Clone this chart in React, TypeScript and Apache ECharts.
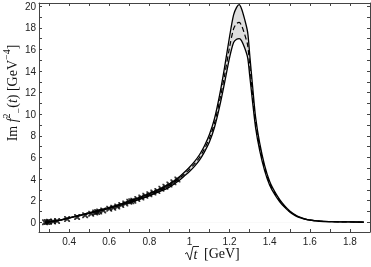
import React, { useEffect, useRef } from "react";
import * as echarts from "echarts";

// sqrt(t) grid for the curves
const xs = [0.28, 0.30, 0.33, 0.36, 0.40, 0.45, 0.50, 0.55, 0.60, 0.65, 0.70, 0.75, 0.80, 0.85, 0.90, 0.95, 0.98, 1.00, 1.025, 1.05, 1.075, 1.10, 1.125, 1.15, 1.175, 1.20, 1.22, 1.235, 1.248, 1.26, 1.275, 1.29, 1.30, 1.315, 1.33, 1.35, 1.375, 1.40, 1.425, 1.45, 1.475, 1.50, 1.525, 1.55, 1.575, 1.60, 1.65, 1.70, 1.75, 1.80, 1.87];
// central curve (dashed)
const central = [0.00, 0.04, 0.12, 0.22, 0.40, 0.62, 0.85, 1.08, 1.33, 1.60, 1.90, 2.20, 2.55, 2.95, 3.40, 4.05, 4.55, 4.90, 5.40, 6.00, 6.80, 7.80, 9.20, 11.20, 13.60, 16.20, 17.90, 18.40, 18.50, 18.20, 17.40, 16.40, 14.60, 11.80, 9.20, 7.00, 5.00, 3.60, 2.70, 2.00, 1.45, 1.00, 0.68, 0.45, 0.30, 0.20, 0.10, 0.06, 0.04, 0.03, 0.02];
// upper edge of the band
const upper = [0.00, 0.04, 0.125, 0.23, 0.415, 0.645, 0.88, 1.12, 1.38, 1.66, 1.97, 2.28, 2.65, 3.07, 3.54, 4.21, 4.73, 5.10, 5.62, 6.25, 7.08, 8.15, 9.62, 11.75, 14.35, 17.20, 19.20, 19.90, 20.15, 19.75, 18.80, 17.60, 15.60, 12.55, 9.70, 7.35, 5.25, 3.78, 2.84, 2.10, 1.52, 1.05, 0.715, 0.47, 0.315, 0.21, 0.105, 0.063, 0.042, 0.031, 0.021];
// lower edge of the band
const lower = [0.00, 0.04, 0.115, 0.21, 0.385, 0.595, 0.82, 1.04, 1.28, 1.54, 1.83, 2.12, 2.45, 2.83, 3.26, 3.89, 4.37, 4.70, 5.18, 5.76, 6.52, 7.46, 8.80, 10.68, 12.90, 15.25, 16.65, 16.95, 17.00, 16.80, 16.15, 15.25, 13.65, 11.08, 8.72, 6.66, 4.76, 3.43, 2.57, 1.90, 1.38, 0.95, 0.645, 0.43, 0.285, 0.19, 0.095, 0.057, 0.038, 0.029, 0.019];

// data points (crosses)
const crossX = [0.28, 0.29, 0.30, 0.32, 0.34, 0.39, 0.44, 0.48, 0.51, 0.53, 0.54, 0.55, 0.57, 0.60, 0.62, 0.64, 0.66, 0.68, 0.70, 0.71, 0.72, 0.74, 0.76, 0.78, 0.80, 0.82, 0.84, 0.86, 0.88, 0.90, 0.92, 0.94];
const crossY = [0.00, 0.02, 0.04, 0.07, 0.12, 0.30, 0.48, 0.65, 0.80, 0.90, 0.95, 1.00, 1.10, 1.25, 1.35, 1.45, 1.60, 1.75, 1.90, 1.95, 2.00, 2.15, 2.30, 2.45, 2.60, 2.75, 2.90, 3.10, 3.30, 3.50, 3.70, 3.95];

const xTicks = [0.3, 0.4, 0.5, 0.6, 0.7, 0.8, 0.9, 1.0, 1.1, 1.2, 1.3, 1.4, 1.5, 1.6, 1.7, 1.8];
const xLabels = [0.4, 0.6, 0.8, 1.0, 1.2, 1.4, 1.6, 1.8];
const yTicks = [0, 1, 2, 3, 4, 5, 6, 7, 8, 9, 10, 11, 12, 13, 14, 15, 16, 17, 18, 19, 20];
const yLabels = [0, 2, 4, 6, 8, 10, 12, 14, 16, 18, 20];

const FRAME = "#444";
const LABEL_FONT = "Liberation Sans";
const SERIF = "Liberation Serif";

export default function App() {
  const ref = useRef<HTMLDivElement>(null);
  useEffect(() => {
    if (!ref.current) return;
    const chart = echarts.init(ref.current, null, { renderer: "svg" });
    const pair = (arr: number[]) => xs.map((x, i) => [x, arr[i]]);
    const crossPath =
      "path://M0,0L2.2,0L5,2.8L7.8,0L10,0L10,2.2L7.2,5L10,7.8L10,10L7.8,10L5,7.2L2.2,10L0,10L0,7.8L2.8,5L0,2.2Z";
    const axisCommonX = {
      type: "value",
      min: 0.25,
      max: 1.9,
      axisLine: { show: true, onZero: false, lineStyle: { color: FRAME, width: 1 } },
      splitLine: { show: false },
    };
    const axisCommonY = {
      type: "value",
      min: -0.9,
      max: 20.3,
      axisLine: { show: true, onZero: false, lineStyle: { color: FRAME, width: 1 } },
      splitLine: { show: false },
    };
    const ink = "#111";
    chart.setOption({
      animation: false,
      grid: { left: 39, right: 1, top: 3, bottom: 35, outerBoundsMode: "none" },
      xAxis: [
        {
          ...axisCommonX,
          position: "bottom",
          axisTick: { show: true, inside: true, length: 3, customValues: xTicks, lineStyle: { color: FRAME } },
          axisLabel: {
            show: true,
            customValues: xLabels,
            margin: 4,
            fontSize: 10,
            fontFamily: LABEL_FONT,
            color: "#222",
            formatter: (v: number) => String(Math.round(v * 10) / 10),
          },
        },
        {
          ...axisCommonX,
          position: "top",
          axisTick: { show: true, inside: true, length: 3, customValues: xTicks, lineStyle: { color: FRAME } },
          axisLabel: { show: false },
        },
      ],
      yAxis: [
        {
          ...axisCommonY,
          position: "left",
          axisTick: { show: true, inside: true, length: 3, customValues: yTicks, lineStyle: { color: FRAME } },
          axisLabel: {
            show: true,
            customValues: yLabels,
            margin: 3,
            fontSize: 10,
            fontFamily: LABEL_FONT,
            color: "#222",
          },
        },
        {
          ...axisCommonY,
          position: "right",
          axisTick: { show: true, inside: true, length: 3, customValues: yTicks, lineStyle: { color: FRAME } },
          axisLabel: { show: false },
        },
      ],
      series: [
        {
          type: "line",
          data: pair(upper),
          smooth: 0.3,
          showSymbol: false,
          lineStyle: { width: 0 },
          areaStyle: { color: "#dedede", opacity: 1 },
          z: 1,
        },
        {
          type: "line",
          data: pair(lower),
          smooth: 0.3,
          showSymbol: false,
          lineStyle: { width: 0 },
          areaStyle: { color: "#ffffff", opacity: 1 },
          z: 2,
        },
        {
          type: "line",
          data: pair(upper),
          smooth: 0.3,
          showSymbol: false,
          lineStyle: { width: 1.3, color: "#000" },
          z: 3,
        },
        {
          type: "line",
          data: pair(lower),
          smooth: 0.3,
          showSymbol: false,
          lineStyle: { width: 1.3, color: "#000" },
          z: 3,
        },
        {
          type: "line",
          data: pair(central),
          smooth: 0.3,
          showSymbol: false,
          lineStyle: { width: 1.2, color: "#000", type: [5, 3] },
          z: 3,
        },
        {
          type: "scatter",
          data: crossX.map((x, i) => [x, crossY[i]]),
          symbol: crossPath,
          symbolSize: 6,
          itemStyle: { color: "#000" },
          z: 4,
        },
      ],
      graphic: [
        {
          type: "text",
          x: 12,
          y: 93,
          rotation: Math.PI / 2,
          style: {
            text: "{n|Im }{i|f}{sup|2}{sub|−}{n|(}{i|t}{n|) [GeV}{sup|−4}{n|]}",
            align: "center",
            verticalAlign: "middle",
            rich: {
              n: { fontFamily: SERIF, fontSize: 14, lineHeight: 22, fill: ink },
              i: { fontFamily: SERIF, fontSize: 14, fontStyle: "italic", lineHeight: 22, fill: ink },
              sup: { fontFamily: SERIF, fontSize: 10, lineHeight: 12, verticalAlign: "top", fill: ink },
              sub: { fontFamily: SERIF, fontSize: 10, lineHeight: 10, verticalAlign: "bottom", fill: ink },
            },
          },
        },
        {
          type: "polyline",
          shape: { points: [[185, 254], [187, 252.5], [190, 260], [193, 246.5], [199, 246.5]] },
          style: { stroke: ink, lineWidth: 0.9, fill: null },
        },
        {
          type: "text",
          x: 193.5,
          y: 254,
          style: {
            text: "t",
            align: "left",
            verticalAlign: "middle",
            font: `italic 14px "${SERIF}"`,
            fill: ink,
          },
        },
        {
          type: "text",
          x: 204,
          y: 253,
          style: {
            text: "[GeV]",
            align: "left",
            verticalAlign: "middle",
            font: `14px "${SERIF}"`,
            fill: ink,
          },
        },
      ],
    });
    return () => chart.dispose();
  }, []);
  return (
    <div
      ref={ref}
      style={{ position: "fixed", left: 0, top: 0, width: 371, height: 267 }}
    />
  );
}
